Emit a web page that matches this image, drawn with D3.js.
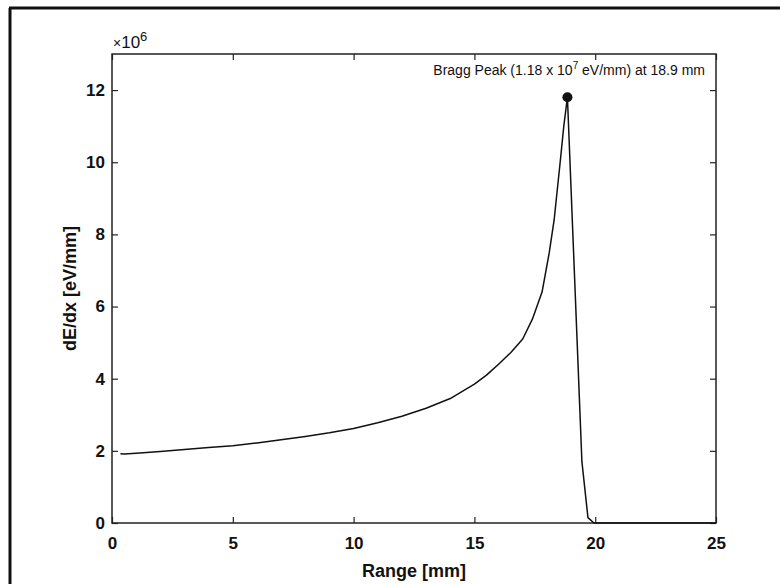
<!DOCTYPE html>
<html>
<head>
<meta charset="utf-8">
<script src="https://cdn.jsdelivr.net/npm/d3@7"></script>
<style>
  body { margin: 0; background: #fff; }
  svg { display: block; }
  text { font-family: "Liberation Sans", Arial, sans-serif; fill: #111; }
</style>
</head>
<body>
<div class="chart"></div>
<script>
// bragg curve - dE/dx vs range

var width = 780,
    height = 584;

// data (x in mm, y in 1e6 eV/mm)
var rangeMm = [0.35, 0.5, 1, 2, 3, 4, 5, 6, 7, 8, 9, 10, 11, 12, 13, 14, 15,
  15.5, 16, 16.5, 17, 17.4, 17.8, 18.1, 18.3, 18.55, 18.7, 18.85,
  19.45, 19.7, 19.95, 21, 23, 25];
var dEdx = [1.92, 1.91, 1.93, 1.98, 2.04, 2.09, 2.14, 2.22, 2.31, 2.40, 2.50, 2.62, 2.78, 2.96, 3.18, 3.45, 3.85,
  4.1, 4.4, 4.72, 5.1, 5.65, 6.4, 7.5, 8.4, 10.0, 11.0, 11.8,
  1.7, 0.15, 0, 0, 0, 0];

var xTicks = [0, 5, 10, 15, 20, 25];
var yTicks = [0, 2, 4, 6, 8, 10, 12];

var peak = { x: 18.85, y: 11.8 };
var peakLabel = ['Bragg Peak (1.18 x 10', '7', ' eV/mm) at 18.9 mm'];

// plot box (note: "top" is taken by window.top)
var boxL = 112, boxR = 716, boxT = 54, boxB = 523;

var svg = d3.select('.chart').append('svg')
    .attr('width', width)
    .attr('height', height);

// outer frame (scan edge), only top and left show
svg.append('line')
    .attr('x1', 10).attr('y1', 8).attr('x2', 10).attr('y2', height)
    .attr('stroke', '#111').attr('stroke-width', 3);
svg.append('line')
    .attr('x1', 9).attr('y1', 8).attr('x2', width).attr('y2', 8)
    .attr('stroke', '#111').attr('stroke-width', 3);

var x = d3.scaleLinear().domain([0, 25]).range([boxL, boxR]);
var y = d3.scaleLinear().domain([0, 13]).range([boxB, boxT]);

var tickFont = function(g) {
  g.selectAll('text')
    .attr('font-size', 17)
    .attr('font-weight', 'bold')
    .attr('fill', '#111');
  g.selectAll('line').attr('stroke', '#222').attr('stroke-width', 1.2);
  g.select('.domain').remove();
};

// bottom axis, ticks pointing in
svg.append('g')
    .attr('transform', 'translate(0,' + boxB + ')')
    .call(d3.axisBottom(x).tickValues(xTicks).tickSizeInner(-6).tickSizeOuter(0).tickPadding(14))
    .call(tickFont);

// top ticks, no labels
svg.append('g')
    .attr('transform', 'translate(0,' + boxT + ')')
    .call(d3.axisTop(x).tickValues(xTicks).tickSizeInner(-6).tickSizeOuter(0).tickFormat(''))
    .call(tickFont);

// left axis
svg.append('g')
    .attr('transform', 'translate(' + boxL + ',0)')
    .call(d3.axisLeft(y).tickValues(yTicks).tickSizeInner(-6).tickSizeOuter(0).tickPadding(7))
    .call(tickFont);

// right ticks
svg.append('g')
    .attr('transform', 'translate(' + boxR + ',0)')
    .call(d3.axisRight(y).tickValues(yTicks).tickSizeInner(-6).tickSizeOuter(0).tickFormat(''))
    .call(tickFont);

// box
svg.append('rect')
    .attr('x', boxL).attr('y', boxT)
    .attr('width', boxR - boxL).attr('height', boxB - boxT)
    .attr('fill', 'none')
    .attr('stroke', '#222')
    .attr('stroke-width', 1.5);

// exponent label
var expo = svg.append('text')
    .attr('x', boxL + 1)
    .attr('y', 48)
    .attr('font-size', 17);
expo.append('tspan').text('\u00d7').attr('font-size', 14);
expo.append('tspan').text('10');
expo.append('tspan').text('6').attr('font-size', 13).attr('dy', -7);

// curve
var line = d3.line()
    .x(function(d, i) { return x(rangeMm[i]); })
    .y(function(d) { return y(d); });

svg.append('path')
    .datum(dEdx)
    .attr('d', line)
    .attr('fill', 'none')
    .attr('stroke', '#111')
    .attr('stroke-width', 1.5)
    .attr('stroke-linejoin', 'round');

// peak marker
svg.append('circle')
    .attr('cx', x(peak.x))
    .attr('cy', y(peak.y))
    .attr('r', 5)
    .attr('fill', '#111');

var lbl = svg.append('text')
    .attr('x', 705)
    .attr('y', 75)
    .attr('text-anchor', 'end')
    .attr('font-size', 14);
lbl.append('tspan').text(peakLabel[0]);
lbl.append('tspan').text(peakLabel[1]).attr('font-size', 10).attr('dy', -6);
lbl.append('tspan').text(peakLabel[2]).attr('dy', 6);

// axis titles
svg.append('text')
    .attr('x', (boxL + boxR) / 2)
    .attr('y', 577)
    .attr('text-anchor', 'middle')
    .attr('font-size', 18)
    .attr('font-weight', 'bold')
    .text('Range [mm]');

svg.append('text')
    .attr('transform', 'translate(76,' + (boxT + boxB) / 2 + ') rotate(-90)')
    .attr('text-anchor', 'middle')
    .attr('font-size', 18)
    .attr('font-weight', 'bold')
    .text('dE/dx [eV/mm]');
</script>
</body>
</html>
